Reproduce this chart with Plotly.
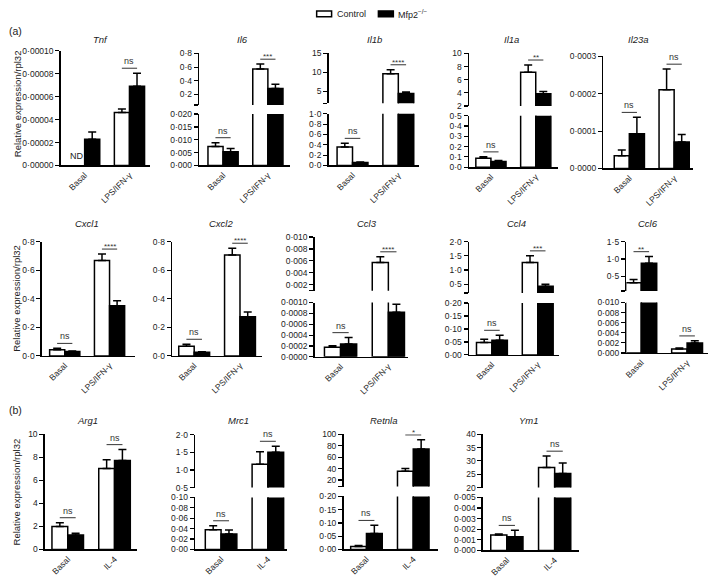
import plotly.graph_objects as go

W, H = 709, 583

# ---------------- data ----------------
genes = ["Tnf", "Il6", "Il1b", "Il1a", "Il23a",
         "Cxcl1", "Cxcl2", "Ccl3", "Ccl4", "Ccl6",
         "Arg1", "Mrc1", "Retnla", "Ym1"]
groups_a = ["Basal", "LPS/IFN-γ"]
groups_b = ["Basal", "IL-4"]

control_mean = {
    "Tnf": [None, 0.0000463], "Il6": [0.0074, 0.574], "Il1b": [0.36, 9.6],
    "Il1a": [0.086, 7.15], "Il23a": [0.0000342, 0.000211],
    "Cxcl1": [0.043, 0.669], "Cxcl2": [0.068, 0.708], "Ccl3": [0.000175, 0.00573],
    "Ccl4": [0.048, 1.26], "Ccl6": [0.31, 0.00078],
    "Arg1": [1.99, 7.02], "Mrc1": [0.0377, 1.16], "Retnla": [0.011, 35.5], "Ym1": [0.00145, 27.5],
}
control_err = {
    "Tnf": [None, 0.000003], "Il6": [0.0015, 0.07], "Il1b": [0.07, 1.1],
    "Il1a": [0.015, 1.1], "Il23a": [0.000015, 0.000055],
    "Cxcl1": [0.01, 0.046], "Cxcl2": [0.014, 0.048], "Ccl3": [0.00003, 0.00096],
    "Ccl4": [0.012, 0.24], "Ccl6": [0.1, 0.0002],
    "Arg1": [0.34, 0.76], "Mrc1": [0.008, 0.36], "Retnla": [0.004, 4.5], "Ym1": [0.0001, 4.3],
}
mfp2_mean = {
    "Tnf": [0.0000228, 0.0000691], "Il6": [0.00535, 0.286], "Il1b": [0.06, 4.4],
    "Il1a": [0.054, 3.85], "Il23a": [0.0000929, 0.0000711],
    "Cxcl1": [0.03, 0.352], "Cxcl2": [0.026, 0.274], "Ccl3": [0.000235, 0.00082],
    "Ccl4": [0.057, 0.43], "Ccl6": [0.877, 0.00195],
    "Arg1": [1.25, 7.73], "Mrc1": [0.0296, 1.506], "Retnla": [0.060, 74.2], "Ym1": [0.0013, 25.3],
}
mfp2_err = {
    "Tnf": [0.0000064, 0.0000115], "Il6": [0.0013, 0.062], "Il1b": [0.01, 0.4],
    "Il1a": [0.01, 0.35], "Il23a": [0.000044, 0.00002],
    "Cxcl1": [0.005, 0.034], "Cxcl2": [0.003, 0.034], "Ccl3": [0.00012, 0.00015],
    "Ccl4": [0.019, 0.07], "Ccl6": [0.19, 0.00045],
    "Arg1": [0.17, 0.94], "Mrc1": [0.008, 0.17], "Retnla": [0.031, 16.0], "Ym1": [0.0006, 3.9],
}
significance = {
    "Tnf": [None, "ns"], "Il6": ["ns", "***"], "Il1b": ["ns", "****"], "Il1a": ["ns", "**"],
    "Il23a": ["ns", "ns"], "Cxcl1": ["ns", "****"], "Cxcl2": ["ns", "****"],
    "Ccl3": ["ns", "****"], "Ccl4": ["ns", "***"], "Ccl6": ["**", "ns"],
    "Arg1": ["ns", "ns"], "Mrc1": ["ns", "ns"], "Retnla": ["ns", "*"], "Ym1": ["ns", "ns"],
}
not_detected = {"Tnf": [True, False]}
series_names = ["Control", "Mfp2<sup>−/−</sup>"]

# axis ranges and tick values (lower segment / upper segment of broken axes)
lower_range = {
    "Tnf": [0, 0.0001], "Il6": [0, 0.02], "Il1b": [0, 1.0], "Il1a": [0, 0.5], "Il23a": [0, 0.0003],
    "Cxcl1": [0, 0.8], "Cxcl2": [0, 0.8], "Ccl3": [0, 0.001], "Ccl4": [0, 0.2], "Ccl6": [0, 0.01],
    "Arg1": [0, 10], "Mrc1": [0, 0.1], "Retnla": [0, 0.2], "Ym1": [0, 0.005],
}
lower_ticks = {
    "Tnf": [0, 0.00002, 0.00004, 0.00006, 0.00008, 0.0001],
    "Il6": [0, 0.005, 0.01, 0.015, 0.02],
    "Il1b": [0, 0.2, 0.4, 0.6, 0.8, 1.0],
    "Il1a": [0, 0.1, 0.2, 0.3, 0.4, 0.5],
    "Il23a": [0, 0.0001, 0.0002, 0.0003],
    "Cxcl1": [0, 0.2, 0.4, 0.6, 0.8], "Cxcl2": [0, 0.2, 0.4, 0.6, 0.8],
    "Ccl3": [0, 0.0002, 0.0004, 0.0006, 0.0008, 0.001],
    "Ccl4": [0, 0.05, 0.1, 0.15, 0.2],
    "Ccl6": [0, 0.002, 0.004, 0.006, 0.008, 0.01],
    "Arg1": [0, 2, 4, 6, 8, 10],
    "Mrc1": [0, 0.02, 0.04, 0.06, 0.08, 0.1],
    "Retnla": [0, 0.05, 0.1, 0.15, 0.2],
    "Ym1": [0, 0.001, 0.002, 0.003, 0.004, 0.005],
}
lower_decimals = {"Tnf": 5, "Il6": 3, "Il1b": 1, "Il1a": 1, "Il23a": 4, "Cxcl1": 1, "Cxcl2": 1,
                  "Ccl3": 4, "Ccl4": 2, "Ccl6": 3, "Arg1": 0, "Mrc1": 2, "Retnla": 2, "Ym1": 3}
upper_range = {
    "Il6": [0.046, 0.8], "Il1b": [1.8, 15], "Il1a": [2, 10], "Ccl3": [0.001, 0.010],
    "Ccl4": [0.19, 2.0], "Ccl6": [0.075, 1.5], "Mrc1": [0.5, 2.0], "Retnla": [8.5, 100], "Ym1": [20, 40],
}
upper_ticks = {
    "Il6": [0.2, 0.4, 0.6, 0.8], "Il1b": [5, 10, 15], "Il1a": [2, 4, 6, 8, 10],
    "Ccl3": [0.002, 0.004, 0.006, 0.008, 0.010], "Ccl4": [0.5, 1.0, 1.5, 2.0],
    "Ccl6": [0.5, 1.0, 1.5], "Mrc1": [0.5, 1.0, 1.5, 2.0], "Retnla": [20, 40, 60, 80, 100],
    "Ym1": [20, 25, 30, 35, 40],
}
upper_decimals = {"Il6": 1, "Il1b": 0, "Il1a": 0, "Ccl3": 3, "Ccl4": 1, "Ccl6": 1,
                  "Mrc1": 1, "Retnla": 0, "Ym1": 0}

# ---------------- layout geometry (pixels) ----------------
# axis_x, first pair centre, spacing between groups, x-axis end
xgeom = {
    "Tnf": (58, 82, 45, 148), "Il6": (197, 221, 45, 288), "Il1b": (327, 351, 46, 418),
    "Il1a": (468, 490, 45, 557), "Il23a": (603, 629, 45, 693),
    "Cxcl1": (39, 62, 45, 133), "Cxcl2": (170, 192, 46, 260), "Ccl3": (313, 339, 48, 407),
    "Ccl4": (468, 491, 46, 558), "Ccl6": (626, 641, 46, 708),
    "Arg1": (42, 65, 47, 135), "Mrc1": (193, 219, 47, 285), "Retnla": (342, 365, 47, 437),
    "Ym1": (482, 506, 48, 578),
}
ylower = {
    "Tnf": (163.3, 46.7), "Il6": (163.3, 111), "Il1b": (163.3, 110.7), "Il1a": (165, 112.7),
    "Il23a": (166.3, 52.3), "Cxcl1": (357, 241), "Cxcl2": (357, 241), "Ccl3": (358, 302.7),
    "Ccl4": (356, 303.3), "Ccl6": (354, 302.7), "Arg1": (554, 436.7), "Mrc1": (554, 501),
    "Retnla": (554, 500), "Ym1": (555, 501),
}
yupper = {
    "Il6": (101.7, 49.3), "Il1b": (100, 49.3), "Il1a": (102.7, 49.3), "Ccl3": (290.7, 236),
    "Ccl4": (293, 240.7), "Ccl6": (291, 240.7), "Mrc1": (491, 437.3), "Retnla": (490, 436.7),
    "Ym1": (491, 436.7),
}
title_pos = {
    "Tnf": (98, 35), "Il6": (241, 35), "Il1b": (373, 35), "Il1a": (511, 35), "Il23a": (638, 35),
    "Cxcl1": (84, 222), "Cxcl2": (219, 222), "Ccl3": (366, 222), "Ccl4": (516, 222), "Ccl6": (648, 222),
    "Arg1": (85, 423), "Mrc1": (237, 423), "Retnla": (382, 423), "Ym1": (528, 423),
}

FONT = "Liberation Sans, Arial, Helvetica, sans-serif"
TXT = "#222"
BW = 0.337  # fraction of a group slot filled by one bar


def fmt(v, d):
    return f"{v:.{d}f}".replace(".", "·")


def fx(p):
    return p / W


def fy(p):
    return 1 - p / H


fig = go.Figure()
layout = {}
shapes = []
annotations = []
k = 0

for g in genes:
    cats = groups_a if genes.index(g) < 10 else groups_b
    ax, c0, sp, xend = xgeom[g]
    left = -(c0 - ax) / sp
    right = left + (xend - ax) / sp
    xdom = [fx(ax), fx(xend)]

    segs = [("lower", ylower[g], lower_range[g], lower_ticks[g], lower_decimals[g])]
    if g in upper_range:
        ut = upper_ticks[g]
        ur = upper_range[g]
        tv = list(ut)
        if abs(ur[0] - min(ut)) > 1e-12:
            tv = [ur[0]] + tv
        segs.append(("upper", yupper[g], ur, tv, upper_decimals[g]))
    broken = len(segs) > 1

    seg_axes = {}
    for name, (pb, pt), rng, tv, dec in segs:
        k += 1
        xa = "xaxis" if k == 1 else f"xaxis{k}"
        ya = "yaxis" if k == 1 else f"yaxis{k}"
        xr = "x" if k == 1 else f"x{k}"
        yr = "y" if k == 1 else f"y{k}"
        is_lower = name == "lower"
        if name == "upper":
            labeled = set(upper_ticks[g])
            tt = [fmt(v, dec) if v in labeled else "" for v in tv]
        else:
            tt = [fmt(v, dec) for v in tv]
        layout[xa] = dict(
            domain=xdom, anchor=yr, type="category", categoryorder="array",
            categoryarray=cats, range=[left, right], showline=is_lower, linecolor="black",
            linewidth=1.5, ticks="", showticklabels=is_lower, tickangle=-45,
            tickfont=dict(size=8.5, color=TXT, family=FONT), showgrid=False, zeroline=False,
            fixedrange=True,
        )
        layout[ya] = dict(
            domain=[fy(pb), fy(pt)], anchor=xr, range=rng, tickvals=tv, ticktext=tt,
            ticks="outside", ticklen=4, tickwidth=1.2, tickcolor="black", showline=True,
            linecolor="black", linewidth=1.5, showgrid=False, zeroline=False,
            tickfont=dict(size=8.5, color=TXT, family=FONT), fixedrange=True,
        )
        seg_axes[name] = (xr, yr, rng, pb, pt)

        # keep only the marks that belong in this segment of a broken axis
        for si, (mean, err, fill) in enumerate(((control_mean[g], control_err[g], "white"),
                                                  (mfp2_mean[g], mfp2_err[g], "black"))):
            yv, ev = [], []
            for m, e in zip(mean, err):
                if m is None:
                    yv.append(None); ev.append(None)
                elif broken and name == "upper" and m < rng[0]:
                    yv.append(None); ev.append(None)
                elif broken and name == "lower" and m > rng[1]:
                    yv.append(m); ev.append(None)
                else:
                    yv.append(m); ev.append(e)
            fig.add_trace(go.Bar(
                x=cats, y=yv, name=series_names[si].replace("<sup>", "").replace("</sup>", ""),
                showlegend=False, hoverinfo="skip",
                marker=dict(color=fill, line=dict(color="black", width=1.5)),
                error_y=dict(type="data", symmetric=False, array=ev,
                             arrayminus=[0] * len(cats), color="black", thickness=1.5, width=4),
                xaxis=xr, yaxis=yr, width=BW, offset=-BW if si == 0 else 0, cliponaxis=True,
            ))

    # significance bars
    for gi, lab in enumerate(significance[g]):
        if lab is None:
            continue
        tops = []
        for m, e in ((control_mean[g], control_err[g]), (mfp2_mean[g], mfp2_err[g])):
            if m[gi] is not None:
                tops.append(m[gi] + (e[gi] or 0))
        top = max(tops)
        seg = "lower"
        if "upper" in seg_axes and top > lower_range[g][1]:
            seg = "upper"
        xr, yr, rng, pb, pt = seg_axes[seg]
        per_px = (rng[1] - rng[0]) / (pb - pt)
        ly = top + 5 * per_px
        shapes.append(dict(type="line", xref=xr, yref=yr, x0=gi - 0.17, x1=gi + 0.17,
                           y0=ly, y1=ly, line=dict(color="#333", width=1)))
        star = lab != "ns"
        annotations.append(dict(x=gi, y=ly, xref=xr, yref=yr, text=lab, showarrow=False,
                                yanchor="bottom", yshift=-4 if star else 0,
                                font=dict(size=8 if star else 9, color="#333", family=FONT)))

    # not detected marks
    for gi, nd in enumerate(not_detected.get(g, [])):
        if nd:
            xr, yr, rng, pb, pt = seg_axes["lower"]
            annotations.append(dict(x=gi - BW / 2, y=0, xref=xr, yref=yr, text="ND",
                                    showarrow=False, yanchor="bottom", yshift=2,
                                    font=dict(size=9, color=TXT, family=FONT)))

    # panel title
    tx, ty = title_pos[g]
    annotations.append(dict(x=fx(tx), y=fy(ty), xref="paper", yref="paper", text=f"<i>{g}</i>",
                            showarrow=False, xanchor="center", yanchor="middle",
                            font=dict(size=9.5, color=TXT, family=FONT)))

# y axis titles and panel letters
for yc in (100, 298, 495):
    annotations.append(dict(x=fx(14), y=fy(yc), xref="paper", yref="paper",
                            text="Relative expression/rpl32", textangle=-90, showarrow=False,
                            xanchor="center", yanchor="middle",
                            font=dict(size=9.5, color=TXT, family=FONT)))
for lab, yc in (("(a)", 26), ("(b)", 412)):
    annotations.append(dict(x=fx(4), y=fy(yc), xref="paper", yref="paper", text=lab,
                            showarrow=False, xanchor="left", yanchor="middle",
                            font=dict(size=10.5, color=TXT, family=FONT)))

# legend (drawn as key boxes + labels)
legend_items = [(315, 330, "white", series_names[0], 333), (377, 392, "black", series_names[1], 395)]
for x0, x1, fill, lab, tx in legend_items:
    shapes.append(dict(type="rect", xref="paper", yref="paper", x0=fx(x0), x1=fx(x1),
                       y0=fy(12), y1=fy(6), fillcolor=fill, line=dict(color="black", width=1.5)))
    annotations.append(dict(x=fx(tx), y=fy(9), xref="paper", yref="paper", text=lab,
                            showarrow=False, xanchor="left", yanchor="middle",
                            font=dict(size=9, color=TXT, family=FONT)))

fig.update_layout(
    width=W, height=H, autosize=False,
    margin=dict(l=0, r=0, t=0, b=0),
    paper_bgcolor="white", plot_bgcolor="white",
    barmode="overlay",
    font=dict(family=FONT, size=9, color=TXT),
    showlegend=False,
    shapes=shapes, annotations=annotations,
    **layout,
)

fig.write_html("out.html",
               config={"displayModeBar": False, "staticPlot": True},
               post_script="document.body.style.margin='0';document.body.style.padding='0';"
                           "document.body.style.overflow='hidden';")
